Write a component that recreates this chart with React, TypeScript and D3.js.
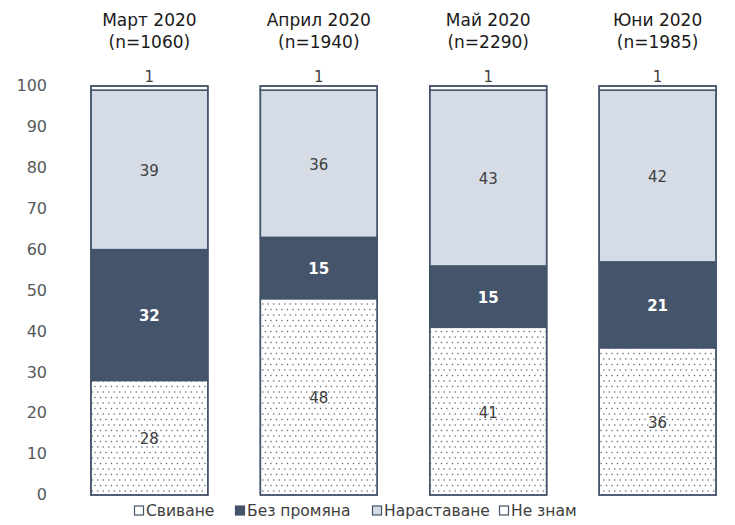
import React, { useEffect, useRef } from 'react';
import * as d3 from 'd3';

const categories = ['Март 2020', 'Април 2020', 'Май 2020', 'Юни 2020'];
const sampleSizes = ['(n=1060)', '(n=1940)', '(n=2290)', '(n=1985)'];
const seriesNames = ['Свиване', 'Без промяна', 'Нараставане', 'Не знам'];
const shrink = [28, 48, 41, 36];
const noChange = [32, 15, 15, 21];
const growth = [39, 36, 43, 42];
const dontKnow = [1, 1, 1, 1];
const yTicks = [0, 10, 20, 30, 40, 50, 60, 70, 80, 90, 100];

const DARK = '#44546a';
const LIGHT = '#d6dce5';
const FONT = '"DejaVu Sans", Verdana, sans-serif';

const App: React.FC = () => {
  const svgRef = useRef<SVGSVGElement>(null);

  useEffect(() => {
    if (!svgRef.current) return;
    const svg = d3.select(svgRef.current);
    svg.selectAll('*').remove();

    const x = d3.scaleBand<string>()
      .domain(categories)
      .range([74, 733])
      .paddingInner(0.31)
      .paddingOuter(0.1);

    const y = d3.scaleLinear().domain([0, 100]).range([495, 86]);

    // dotted pattern for "Свиване"
    const defs = svg.append('defs');
    const pat = defs.append('pattern')
      .attr('id', 'dots')
      .attr('patternUnits', 'userSpaceOnUse')
      .attr('width', 11)
      .attr('height', 11);
    pat.append('rect').attr('width', 11).attr('height', 11).attr('fill', '#fff');
    [[1.5, 1.5], [7, 1.5], [4.25, 7], [9.75, 7]].forEach(([cx, cy]) => {
      pat.append('rect')
        .attr('x', cx - 0.65).attr('y', cy - 0.65)
        .attr('width', 1.3).attr('height', 1.3)
        .attr('fill', '#5a6578');
    });

    const fills = ['url(#dots)', DARK, LIGHT, '#ffffff'];
    const seriesData = [shrink, noChange, growth, dontKnow];

    const rows = categories.map((c, i) => ({
      cat: c,
      s0: shrink[i], s1: noChange[i], s2: growth[i], s3: dontKnow[i]
    }));
    const stack = d3.stack<any>().keys(['s0', 's1', 's2', 's3'])(rows);

    // y axis labels
    svg.append('g')
      .selectAll('text')
      .data(yTicks)
      .enter()
      .append('text')
      .attr('x', 47)
      .attr('y', d => y(d))
      .attr('dy', '0.33em')
      .attr('text-anchor', 'end')
      .style('font-family', FONT)
      .style('font-size', '16px')
      .style('fill', '#595959')
      .text(d => d);

    // segments
    stack.forEach((layer, si) => {
      svg.append('g')
        .selectAll('rect')
        .data(layer)
        .enter()
        .append('rect')
        .attr('x', d => x(d.data.cat) || 0)
        .attr('width', x.bandwidth())
        .attr('y', d => y(d[1]))
        .attr('height', d => y(d[0]) - y(d[1]))
        .attr('fill', fills[si])
        .attr('stroke', DARK)
        .attr('stroke-width', 1.5);
    });

    // outer bar outline
    svg.append('g')
      .selectAll('rect')
      .data(rows)
      .enter()
      .append('rect')
      .attr('x', d => x(d.cat) || 0)
      .attr('width', x.bandwidth())
      .attr('y', y(100))
      .attr('height', y(0) - y(100))
      .attr('fill', 'none')
      .attr('stroke', DARK)
      .attr('stroke-width', 1.5);

    // value labels
    stack.forEach((layer, si) => {
      svg.append('g')
        .selectAll('text')
        .data(layer)
        .enter()
        .append('text')
        .attr('x', d => (x(d.data.cat) || 0) + x.bandwidth() / 2)
        .attr('y', d => si === 3 ? y(d[1]) - 9 : y((d[0] + d[1]) / 2) + 1)
        .attr('dy', '0.36em')
        .attr('text-anchor', 'middle')
        .style('font-family', FONT)
        .style('font-size', '15px')
        .style('font-weight', si === 1 ? 'bold' : 'normal')
        .style('fill', si === 1 ? '#ffffff' : '#404040')
        .text((_d, i) => seriesData[si][i]);
    });

    // column titles
    const titles = svg.append('g')
      .selectAll('text')
      .data(categories)
      .enter()
      .append('text')
      .attr('text-anchor', 'middle')
      .style('font-family', FONT)
      .style('font-size', '17px')
      .style('fill', '#1a1a1a');
    titles.append('tspan')
      .attr('x', d => (x(d) || 0) + x.bandwidth() / 2)
      .attr('y', 26)
      .text(d => d);
    titles.append('tspan')
      .attr('x', d => (x(d) || 0) + x.bandwidth() / 2)
      .attr('y', 48)
      .text((_d, i) => sampleSizes[i]);

    // legend
    const legendX = [134, 235, 372, 499];
    const legend = svg.append('g')
      .selectAll('g')
      .data(seriesNames)
      .enter()
      .append('g')
      .attr('transform', (_d, i) => `translate(${legendX[i]},516)`);
    legend.append('rect')
      .attr('x', 0.5)
      .attr('y', -10)
      .attr('width', 9)
      .attr('height', 9)
      .attr('fill', (_d, i) => i === 0 ? '#ffffff' : fills[i])
      .attr('stroke', DARK)
      .attr('stroke-width', 1.2);
    legend.append('text')
      .attr('x', 12)
      .attr('y', 0)
      .style('font-family', FONT)
      .style('font-size', '15.5px')
      .style('fill', '#404040')
      .text(d => d);
  }, []);

  return (
    <svg
      ref={svgRef}
      width={735}
      height={525}
      style={{ position: 'absolute', left: 0, top: 0, background: '#fff' }}
    />
  );
};

export default App;
